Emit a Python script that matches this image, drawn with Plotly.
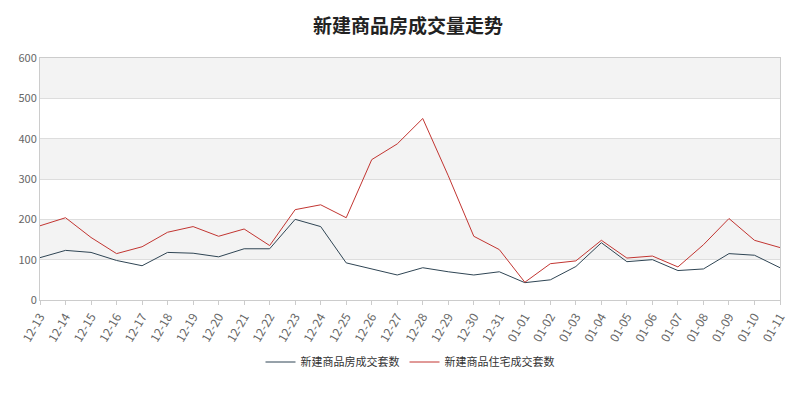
import plotly.graph_objects as go

dates = ["12-13","12-14","12-15","12-16","12-17","12-18","12-19","12-20","12-21","12-22","12-23","12-24","12-25","12-26","12-27","12-28","12-29","12-30","12-31",
         "01-01","01-02","01-03","01-04","01-05","01-06","01-07","01-08","01-09","01-10","01-11"]
house = [105,123,118,98,85,118,116,107,127,127,200,182,92,77,62,80,70,62,70,43,50,83,142,95,100,73,77,115,111,80]
resid = [184,204,155,115,132,168,182,158,176,135,224,236,204,348,387,450,308,158,125,44,90,97,148,104,109,82,137,202,148,130]

fig = go.Figure()
fig.add_trace(go.Scatter(x=dates, y=house, mode="lines", name="新建商品房成交套数", line=dict(color="#2f4554", width=1)))
fig.add_trace(go.Scatter(x=dates, y=resid, mode="lines", name="新建商品住宅成交套数", line=dict(color="#c23531", width=1)))
for y0 in (100, 300, 500):
    fig.add_shape(type="rect", xref="paper", yref="y", x0=0, x1=1, y0=y0, y1=y0+100,
                  fillcolor="#f3f3f3", line_width=0, layer="below")
fig.update_layout(
    width=800, height=400, paper_bgcolor="white", plot_bgcolor="white",
    margin=dict(l=32, r=28, t=50, b=108),
    font=dict(family="Noto Sans CJK SC", size=12, color="#333"),
    title=dict(text="<b>新建商品房成交量走势</b>", x=0.5, y=0.97, yanchor="top", font=dict(size=19, color="#222")),
    legend=dict(orientation="h", x=0.5, xanchor="center", yref="container", y=0.115, yanchor="middle",
                font=dict(size=11), itemwidth=30),
    showlegend=True,
)
fig.update_xaxes(type="category", range=[0, 29], showgrid=False, tickangle=-60, showline=True, linecolor="#ccc", mirror=True,
                 tickfont=dict(size=12, color="#666"), ticks="outside", ticklen=4, tickcolor="#ccc", automargin=False)
fig.update_yaxes(range=[0, 600], dtick=100, gridcolor="#ddd", showline=True, linecolor="#ccc", mirror=True,
                 tickfont=dict(size=11, color="#666"), zeroline=False, automargin=False)
fig.write_html("out.html")
